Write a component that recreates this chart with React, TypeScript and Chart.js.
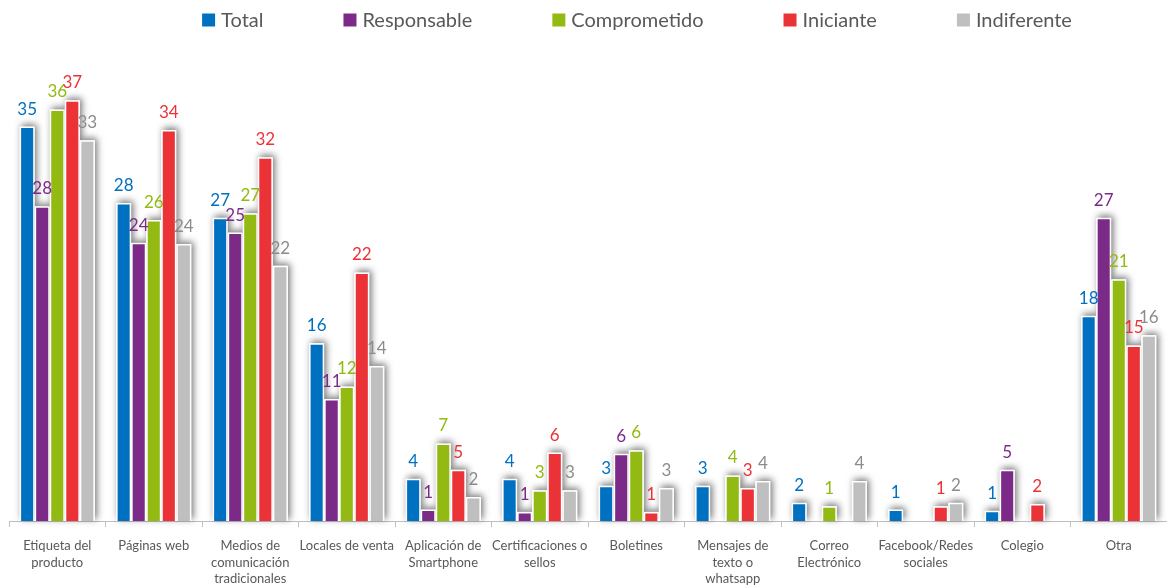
import React, { useEffect, useRef } from "react";
import { Chart, registerables } from "chart.js";

Chart.register(...registerables);

const categories: string[][] = [
  ["Etiqueta del", "producto"],
  ["Páginas web"],
  ["Medios de", "comunicación", "tradicionales"],
  ["Locales de venta"],
  ["Aplicación de", "Smartphone"],
  ["Certificaciones o", "sellos"],
  ["Boletines"],
  ["Mensajes de", "texto o", "whatsapp"],
  ["Correo", "Electrónico"],
  ["Facebook/Redes", "sociales"],
  ["Colegio"],
  ["Otra"],
];

const seriesNames = ["Total", "Responsable", "Comprometido", "Iniciante", "Indiferente"];

// Values (labels show them rounded)
const total: (number | null)[] = [34.6, 27.9, 26.6, 15.6, 3.7, 3.7, 3.1, 3.1, 1.6, 1.0, 0.9, 18.0];
const responsable: (number | null)[] = [27.6, 24.4, 25.3, 10.7, 1.0, 0.8, 5.9, null, null, null, 4.5, 26.6];
const comprometido: (number | null)[] = [36.1, 26.4, 27.0, 11.8, 6.8, 2.7, 6.2, 4.0, 1.3, null, null, 21.2];
const iniciante: (number | null)[] = [36.9, 34.3, 31.9, 21.8, 4.5, 6.0, 0.8, 2.9, null, 1.3, 1.5, 15.4];
const indiferente: (number | null)[] = [33.4, 24.3, 22.4, 13.6, 2.1, 2.7, 2.9, 3.5, 3.5, 1.6, null, 16.3];

const barColors = ["#0070C0", "#7B2A88", "#93BA12", "#EB3237", "#BFBFBF"];
const labelColors = ["#0070C0", "#7B2A88", "#93BA12", "#EB3237", "#8C8C8C"];

const FONT = "Lato, 'Open Sans', sans-serif";
const LEGEND_CENTER_X = 637;
const LEGEND_Y = 20;

const shadowPlugin = {
  id: "barShadow",
  beforeDatasetsDraw(chart: any) {
    const ctx = chart.ctx;
    chart.data.datasets.forEach((ds: any, i: number) => {
      const meta = chart.getDatasetMeta(i);
      meta.data.forEach((el: any, j: number) => {
        if (ds.data[j] === null || ds.data[j] === undefined) return;
        const p = el.getProps(["x", "y", "base", "width"], true);
        ctx.save();
        ctx.shadowColor = "rgba(0,0,0,0.55)";
        ctx.shadowBlur = 7;
        ctx.shadowOffsetX = 2;
        ctx.shadowOffsetY = -2;
        ctx.fillStyle = "#ffffff";
        ctx.fillRect(p.x - p.width / 2, p.y, p.width, p.base - p.y);
        ctx.restore();
      });
    });
  },
};

const valueLabelPlugin = {
  id: "valueLabels",
  afterDatasetsDraw(chart: any) {
    const ctx = chart.ctx;
    ctx.save();
    ctx.font = `17px ${FONT}`;
    ctx.textAlign = "center";
    ctx.textBaseline = "alphabetic";
    chart.data.datasets.forEach((ds: any, i: number) => {
      const meta = chart.getDatasetMeta(i);
      meta.data.forEach((el: any, j: number) => {
        const v = ds.data[j];
        if (v === null || v === undefined) return;
        const p = el.getProps(["x", "y"], true);
        ctx.fillStyle = labelColors[i];
        ctx.fillText(String(Math.round(v)), p.x, p.y - 12);
      });
    });
    ctx.restore();
  },
};

const legendPlugin = {
  id: "customLegend",
  afterDraw(chart: any) {
    const ctx = chart.ctx;
    ctx.save();
    ctx.font = `20px ${FONT}`;
    ctx.textBaseline = "middle";
    ctx.textAlign = "left";
    const box = 13;
    const boxGap = 6;
    const itemGap = 80;
    const widths = seriesNames.map((n) => ctx.measureText(n).width);
    const totalW =
      widths.reduce((a, w) => a + box + boxGap + w, 0) + itemGap * (seriesNames.length - 1);
    let x = LEGEND_CENTER_X - totalW / 2;
    seriesNames.forEach((n, i) => {
      ctx.fillStyle = barColors[i];
      ctx.fillRect(x, LEGEND_Y - box / 2, box, box);
      ctx.fillStyle = "#595959";
      ctx.fillText(n, x + box + boxGap, LEGEND_Y + 1);
      x += box + boxGap + widths[i] + itemGap;
    });
    ctx.restore();
  },
};

export default function App() {
  const ref = useRef<HTMLCanvasElement | null>(null);
  useEffect(() => {
    document.body.style.overflow = "hidden";
    if (!ref.current) return;
    const seriesData = [total, responsable, comprometido, iniciante, indiferente];
    const chart = new Chart(ref.current, {
      type: "bar",
      data: {
        labels: categories,
        datasets: seriesNames.map((name, i) => ({
          label: name,
          data: seriesData[i],
          backgroundColor: barColors[i],
          borderColor: "#ffffff",
          borderWidth: 1.5,
          borderSkipped: "bottom",
          categoryPercentage: 0.78,
          barPercentage: 1,
        })),
      },
      options: {
        animation: false,
        responsive: true,
        maintainAspectRatio: false,
        layout: { padding: { top: 65, left: 9, right: 0, bottom: 0 } },
        plugins: {
          legend: { display: false },
          tooltip: { enabled: false },
        },
        scales: {
          x: {
            grid: {
              offset: true,
              drawOnChartArea: false,
              drawTicks: true,
              tickLength: 6,
              color: "#BFBFBF",
            },
            border: { color: "#BFBFBF", width: 1 },
            ticks: {
              color: "#595959",
              font: { family: FONT, size: 13, lineHeight: 1.25 },
              padding: 11,
              maxRotation: 0,
              autoSkip: false,
            },
            afterFit: (s: any) => {
              s.height = 65;
            },
          },
          y: { display: false, min: 0, max: 40 },
        },
      },
      plugins: [shadowPlugin, valueLabelPlugin, legendPlugin],
    } as any);
    return () => chart.destroy();
  }, []);
  return (
    <div style={{ position: "absolute", left: 0, top: 0, width: 1167, height: 586 }}>
      <canvas ref={ref} />
    </div>
  );
}
